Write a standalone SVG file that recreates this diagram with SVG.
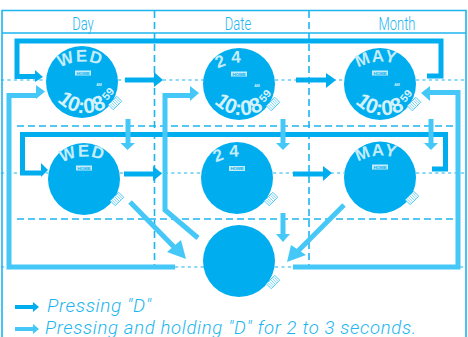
<svg xmlns="http://www.w3.org/2000/svg" width="468" height="337" viewBox="0 0 468 337">
<defs>
<style>
.a{fill:#00aeef}.l{fill:#45c8f7}
.s{fill:none;stroke:#00aeef;stroke-width:5}
.t{fill:none;stroke:#45c8f7;stroke-width:5}
.g{fill:none;stroke:#1cb5f0;stroke-width:1.6}
.d{fill:none;stroke:#1cb5f0;stroke-width:1.2;stroke-dasharray:3.2 3.2}
.D{fill:none;stroke:#1cb5f0;stroke-width:1.6;stroke-dasharray:7 4}
.h{font-family:Roboto,"Liberation Sans",sans-serif;font-weight:300;font-size:18px;fill:#1cb5f0;text-anchor:middle}
.i{font-family:Roboto,"Liberation Sans",sans-serif;font-weight:300;font-style:italic;fill:#1cb5f0}
.w{font-family:"Liberation Sans",sans-serif;fill:#c4ecfb;font-weight:bold;font-size:17px;letter-spacing:1px}
.n{font-size:17px;letter-spacing:5px}
.b{font-family:"Liberation Sans",sans-serif;fill:#d5f2fc;font-weight:bold;font-size:21px}
.v{font-family:"Liberation Sans",sans-serif;fill:#d5f2fc;font-weight:bold;font-size:11px}
.k{fill:#c4ecfb}
.m{fill:#00aeef;font-family:"Liberation Sans",sans-serif;font-size:4.4px;font-weight:bold;text-anchor:middle}
.p{fill:#d5f2fc;font-family:"Liberation Sans",sans-serif;font-size:3.6px;font-weight:bold;text-anchor:middle}
.c{fill:#fff;stroke:#45c8f7;stroke-width:.9}
</style>
<g id="crown"><rect x="-6" y="-3.500" width="12" height="7" class="c"/><path d="M-4-3V3M-2-3V3M0-3V3M2-3V3M4-3V3" stroke="#45c8f7" stroke-width=".7"/></g>
<path id="t1" d="M60 68A45 45 0 0 1 106 68"/>
<path id="b1" d="M57 101A40 40 0 0 0 110 105"/>
<path id="t2" d="M218 69A45 45 0 0 1 264 69"/>
<path id="b2" d="M214 103A40 40 0 0 0 267 107"/>
<path id="t3" d="M358 68A45 45 0 0 1 404 68"/>
<path id="b3" d="M355 103A40 40 0 0 0 408 107"/>
<path id="t4" d="M62 163A45 45 0 0 1 108 163"/>
<path id="t5" d="M216 163A45 45 0 0 1 262 163"/>
<path id="t6" d="M358 162A45 45 0 0 1 404 162"/>
</defs>
<g id="grid">
<path class="g" d="M2 337V10.500H466V337M2 33H466"/>
<path class="D" d="M154.500 11V267M309 11V267"/>
<path class="D" d="M17 126H455M17 219H455"/>
<path class="d" d="M1 80H46M118 80H204M275 80H344M416 80H465M1 173H48M120 173H201M273 173H344M416 173H465M1 267H8M175 267H204M275 267H293M460 267H465"/>
<text class="h" transform="translate(83 30) scale(.72 1)">Day</text>
<text class="h" transform="translate(238 30) scale(.72 1)">Date</text>
<text class="h" transform="translate(397 30) scale(.72 1)">Month</text>
</g>
<g id="connectors">
<path class="s" d="M427 76H441V41H17V76.500H36"/>
<polygon class="a" points="35,70 43,77 35,82"/>
<path class="s" d="M432 169H445.500V134.500H22.500V173H42"/>
<polygon class="a" points="41,163 48,170 41,177"/>
<path class="s" d="M125 80H155"/><polygon class="a" points="154,72 163,80 154,87"/>
<path class="s" d="M296 80H327"/><polygon class="a" points="326,73 336,80 326,88"/>
<path class="s" d="M124 174H154"/><polygon class="a" points="153,166 162,173.500 153,181"/>
<path class="s" d="M293 174H324"/><polygon class="a" points="323,166 332,173 323,181"/>
<path class="t" d="M175 267H9V95.500H37"/><polygon class="l" points="36,85 45,91.500 36,99"/>
<path class="t" d="M198 238L165 210V95.500H191"/><polygon class="l" points="190,86 199,93 190,101"/>
<path class="t" d="M293 267H458V92.500H429"/><polygon class="l" points="430,86 421,93 430,101"/>
<path class="t" d="M128 119V144"/><polygon class="l" points="120.500,143 135,143 127.500,150"/>
<path class="t" d="M283 119V144"/><polygon class="l" points="276,143 290,143 283,150"/>
<path class="t" d="M431 119V144"/><polygon class="l" points="424,143 438,143 431,150"/>
<path class="t" d="M283 213V235"/><polygon class="l" points="276,234 290,234 283,242"/>
<path class="t" d="M130 202L177 250"/><polygon class="l" points="186,259 167,252 181,240"/>
<path class="t" d="M344 205L296 253"/><polygon class="l" points="287,262 291,245 306,255"/>
</g>
<g id="n1"><circle cx="82" cy="82" r="36" class="a"/><text class="w"><textPath href="#t1">WED</textPath></text><rect x="75" y="70.500" width="16" height="5" class="k"/><text class="m" x="83" y="74.600">HOME</text><text class="p" x="99" y="85.500">AM</text><text class="b"><textPath href="#b1">10:08</textPath></text><text class="v" transform="translate(107 101) rotate(-50)">59</text><use href="#crown" transform="translate(115 103) rotate(-45)"/></g>
<g id="n2"><circle cx="239" cy="84" r="36" class="a"/><text class="w n"><textPath href="#t2">24</textPath></text><rect x="231" y="71.500" width="16" height="5" class="k"/><text class="m" x="239" y="75.600">HOME</text><text class="p" x="257" y="86.500">AM</text><text class="b"><textPath href="#b2">10:08</textPath></text><text class="v" transform="translate(264 103) rotate(-50)">59</text><use href="#crown" transform="translate(273 104) rotate(-45)"/></g>
<g id="n3"><circle cx="380" cy="84" r="36" class="a"/><text class="w"><textPath href="#t3">MAY</textPath></text><rect x="372" y="70.500" width="16" height="5" class="k"/><text class="m" x="380" y="74.600">HOME</text><text class="p" x="397" y="85.500">AM</text><text class="b"><textPath href="#b3">10:08</textPath></text><text class="v" transform="translate(405 103) rotate(-50)">59</text><use href="#crown" transform="translate(414 104) rotate(-45)"/></g>
<g id="n4"><circle cx="84" cy="179" r="36" class="a"/><text class="w"><textPath href="#t4">WED</textPath></text><rect x="76" y="165.500" width="16" height="5" class="k"/><text class="m" x="84" y="169.600">HOME</text><use href="#crown" transform="translate(117 199) rotate(-45)"/></g>
<g id="n5"><circle cx="237" cy="178" r="36" class="a"/><text class="w n"><textPath href="#t5">24</textPath></text><rect x="229" y="166" width="16" height="5" class="k"/><text class="m" x="237" y="170.100">HOME</text><use href="#crown" transform="translate(271 199) rotate(-45)"/></g>
<g id="n6"><circle cx="380" cy="177.500" r="36" class="a"/><text class="w"><textPath href="#t6">MAY</textPath></text><rect x="372" y="164.500" width="16" height="5" class="k"/><text class="m" x="380" y="168.600">HOME</text><use href="#crown" transform="translate(412 198) rotate(-45)"/></g>
<g id="n7"><circle cx="239" cy="261" r="36" class="a"/><use href="#crown" transform="translate(273 282) rotate(-45)"/></g>
<g id="legend">
<path class="s" style="stroke-width:4" d="M15 307H34"/><polygon class="a" points="33,302 39,307 33,312"/>
<path class="t" style="stroke-width:4" d="M15 329H34"/><polygon class="l" points="33,324 39,329 33,334"/>
<text class="i" x="47" y="312" font-size="19" textLength="104">Pressing "D"</text>
<text class="i" x="45" y="333.500" font-size="18.500" textLength="371">Pressing and holding "D" for 2 to 3 seconds.</text>
</g>
</svg>
